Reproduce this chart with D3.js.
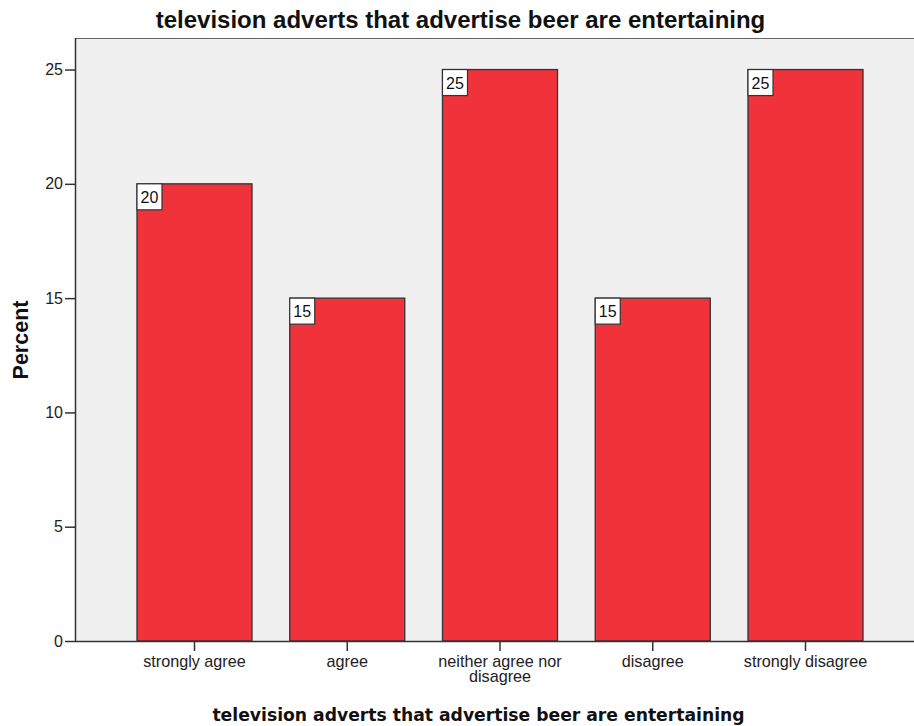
<!DOCTYPE html>
<html>
<head>
<meta charset="utf-8">
<script src="https://cdn.jsdelivr.net/npm/d3@7"></script>
<style>
  html, body { margin: 0; padding: 0; background: #fff; }
  svg { display: block; }
</style>
</head>
<body>
<svg id="chart" width="914" height="726"></svg>
<script>
// Survey responses: share of respondents per answer
const categories = ["strongly agree", "agree", "neither agree nor disagree", "disagree", "strongly disagree"];
const percents = [20, 15, 25, 15, 25];
const yTicks = [0, 5, 10, 15, 20, 25];
const chartTitle = "television adverts that advertise beer are entertaining";
const xTitle = "television adverts that advertise beer are entertaining";
const yTitle = "Percent";

const svg = d3.select("#chart");
const W = 914, H = 726;
const frame = { left: 75, top: 38, right: 914, bottom: 641 };
const sans = "Liberation Sans, Arial, sans-serif";

// Plot background
svg.append("rect")
  .attr("x", frame.left).attr("y", frame.top)
  .attr("width", frame.right - frame.left + 2).attr("height", frame.bottom - frame.top)
  .attr("fill", "#f0f0f0");
// top border
svg.append("line")
  .attr("x1", frame.left).attr("x2", frame.right)
  .attr("y1", frame.top + 0.5).attr("y2", frame.top + 0.5)
  .attr("stroke", "#666").attr("stroke-width", 1.2);

const y = d3.scaleLinear().domain([0, 26.38]).range([frame.bottom, frame.top]);
const x = d3.scaleBand().domain(categories)
  .range([118.5, 881.5]).paddingInner(0.247).paddingOuter(0.121);

// Bars
svg.append("g").selectAll("rect").data(categories).join("rect")
  .attr("x", d => x(d))
  .attr("y", (d, i) => y(percents[i]))
  .attr("width", x.bandwidth())
  .attr("height", (d, i) => y(0) - y(percents[i]))
  .attr("fill", "#f0323a")
  .attr("stroke", "#333")
  .attr("stroke-width", 1.3);

// Value label boxes in the top-left corner of each bar
const labels = svg.append("g");
categories.forEach((c, i) => {
  const bx = x(c), by = y(percents[i]);
  labels.append("rect")
    .attr("x", bx).attr("y", by)
    .attr("width", 25).attr("height", 26)
    .attr("fill", "#fff").attr("stroke", "#333").attr("stroke-width", 1.2);
  labels.append("text")
    .attr("x", bx + 12.5).attr("y", by + 19)
    .attr("text-anchor", "middle")
    .attr("font-family", sans)
    .attr("font-size", 16).attr("fill", "#111")
    .text(percents[i]);
});

// Y axis
const yAxis = svg.append("g").attr("transform", `translate(${frame.left},0)`)
  .call(d3.axisLeft(y).tickValues(yTicks).tickSize(10).tickPadding(2).tickFormat(d3.format("d")));
yAxis.select(".domain").attr("stroke", "#333").attr("stroke-width", 1.5)
  .attr("d", `M0.5,${frame.top}V${frame.bottom}`);
yAxis.selectAll(".tick line").attr("stroke", "#333").attr("stroke-width", 1.5);
yAxis.selectAll(".tick text").attr("font-family", sans)
  .attr("font-size", 16).attr("fill", "#222");

// X axis
const xAxis = svg.append("g").attr("transform", `translate(0,${frame.bottom})`)
  .call(d3.axisBottom(x).tickSize(10).tickPadding(4));
xAxis.select(".domain").attr("stroke", "#333").attr("stroke-width", 1.5)
  .attr("d", `M${frame.left},0.5H${W}`);
xAxis.selectAll(".tick line").attr("stroke", "#333").attr("stroke-width", 1.5);
xAxis.selectAll(".tick text").remove();

// Category labels, wrapped where long
const wrapLines = {
  "neither agree nor disagree": ["neither agree nor", "disagree"]
};
categories.forEach(c => {
  const lines = wrapLines[c] || [c];
  const cx = x(c) + x.bandwidth() / 2;
  const t = svg.append("text")
    .attr("x", cx)
    .attr("y", frame.bottom + 26)
    .attr("text-anchor", "middle")
    .attr("font-family", sans)
    .attr("font-size", 16.2).attr("fill", "#222");
  lines.forEach((l, k) => t.append("tspan")
    .attr("x", cx).attr("dy", k ? 15 : 0).text(l));
});

// Titles
svg.append("text")
  .attr("x", 460.5).attr("y", 28)
  .attr("text-anchor", "middle")
  .attr("font-family", sans)
  .attr("font-weight", "bold").attr("font-size", 24).attr("fill", "#111")
  .text(chartTitle);

svg.append("text")
  .attr("x", 478.5).attr("y", 721)
  .attr("text-anchor", "middle")
  .attr("font-family", "DejaVu Sans, sans-serif")
  .attr("font-weight", "bold").attr("font-size", 17.2).attr("fill", "#111")
  .text(xTitle);

svg.append("text")
  .attr("transform", "translate(28,340) rotate(-90)")
  .attr("text-anchor", "middle")
  .attr("font-family", sans)
  .attr("font-weight", "bold").attr("font-size", 21.5).attr("fill", "#111")
  .text(yTitle);
</script>
</body>
</html>
